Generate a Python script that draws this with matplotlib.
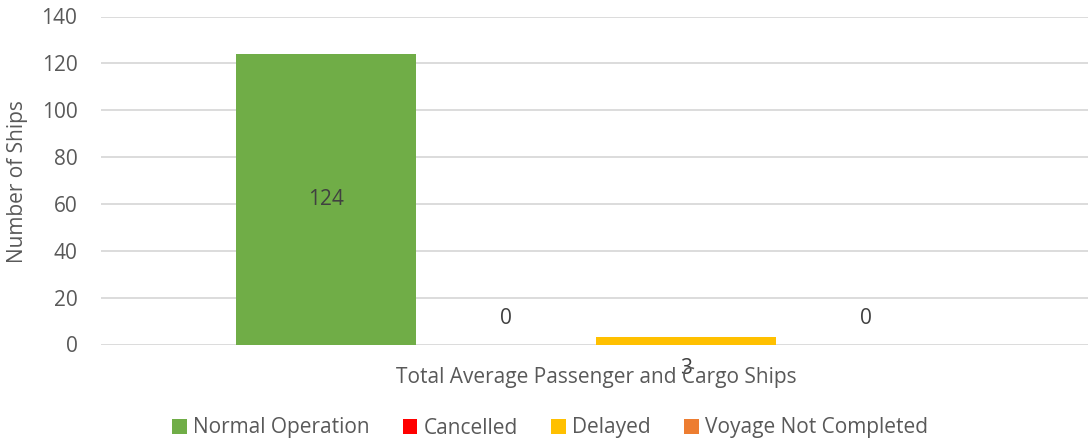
import matplotlib.pyplot as plt
import numpy as np

plt.rcParams['font.family'] = ['Open Sans', 'DejaVu Sans']

category = 'Total Average Passenger and Cargo Ships'
series = ['Normal Operation', 'Cancelled', 'Delayed', 'Voyage Not Completed']
values = [124, 0, 3, 0]
colors = ['#70AD47', '#FF0000', '#FFC000', '#ED7D31']

text_c = '#595959'
fs = 15

fig = plt.figure(figsize=(10.88, 4.46), dpi=100)
ax = fig.add_axes([101 / 1088, 1 - 344.5 / 446, 987 / 1088, 328 / 446])

offsets = np.arange(len(series)) - 1.5
for off, v, c, name in zip(offsets, values, colors, series):
    ax.bar(off, v, width=1.0, color=c, label=name, zorder=2)

# data labels
ax.text(offsets[0], values[0] / 2, str(values[0]), ha='center', va='center',
        fontsize=fs, color='#404040')
ax.annotate(str(values[1]), (offsets[1], values[1]), xytext=(0, 19), textcoords='offset points',
            ha='center', va='center', fontsize=fs, color='#404040')
ax.annotate(str(values[2]), (offsets[2], values[2]), xytext=(0, -22), textcoords='offset points',
            ha='center', va='center', fontsize=fs, color='#404040')
ax.annotate(str(values[3]), (offsets[3], values[3]), xytext=(0, 19), textcoords='offset points',
            ha='center', va='center', fontsize=fs, color='#404040')

ax.set_xlim(-2.752, 2.731)
ax.set_ylim(0, 140)
ax.set_yticks(np.arange(0, 141, 20))
ax.set_xticks([])
ax.yaxis.grid(True, color='#D9D9D9', linewidth=1.3, zorder=0)
ax.set_axisbelow(True)
for s in ax.spines.values():
    s.set_visible(False)
ax.tick_params(axis='y', length=0, pad=17, labelsize=fs, labelcolor=text_c)

fig.text(18 / 1088, 1 - 182 / 446, 'Number of Ships', rotation=90, ha='center', va='center',
         fontsize=fs, color=text_c)
fig.text(596 / 1088, 1 - 377 / 446, category, ha='center', va='center', fontsize=fs, color=text_c)

leg = fig.legend(loc='center', bbox_to_anchor=(550 / 1088, 1 - 428 / 446), ncol=4, frameon=False,
                 fontsize=fs, handlelength=0.7, handleheight=0.7, handletextpad=0.3, columnspacing=1.6)
for t in leg.get_texts():
    t.set_color(text_c)

fig.savefig('out.png', dpi=100)
